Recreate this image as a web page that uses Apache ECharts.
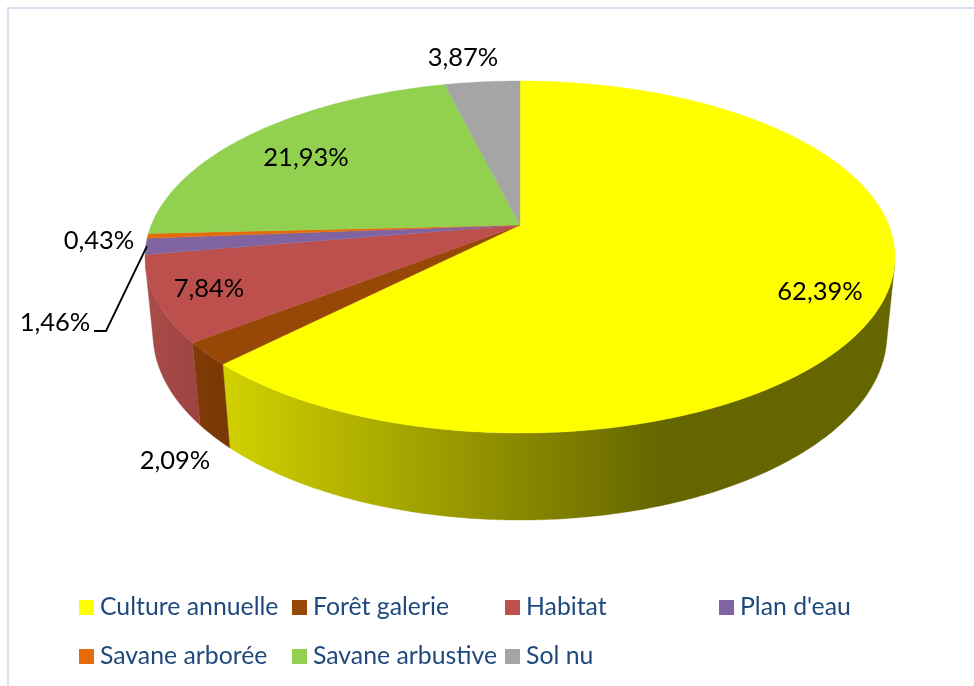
<!DOCTYPE html>
<html>
<head>
<meta charset="utf-8">
<style>html,body{margin:0;padding:0;background:#fff}#c{width:974px;height:686px}</style>
<script src="https://cdn.jsdelivr.net/npm/echarts@6/dist/echarts.min.js"></script>
</head>
<body>
<div id="c"></div>
<script>
// Land cover shares, clockwise from twelve o'clock
const categories = ['Culture annuelle', 'Forêt galerie', 'Habitat', "Plan d'eau", 'Savane arborée', 'Savane arbustive', 'Sol nu'];
const shares = [62.39, 2.09, 7.84, 1.46, 0.43, 21.93, 3.87];

const topColors = ['#ffff00', '#974706', '#bd504d', '#8064a2', '#e36c09', '#92d050', '#a5a5a5'];
const wallStops = [
  [[222, '#d2d200'], [660, '#666600']],
  [[192, '#7f3b05'], [230, '#7a3805']],
  [[146, '#aa4c4a'], [200, '#9c4341']],
  [[146, '#6c5488'], [150, '#6c5488']],
  [[146, '#c05c08'], [150, '#c05c08']],
  [[146, '#7bb044'], [150, '#7bb044']],
  [[146, '#8c8c8c'], [150, '#8c8c8c']]
];
// Data label centres, in page pixels
const labelCentres = [[820, 292], [175, 461], [209, 289], [55, 323], [99, 241], [306, 158], [463, 58]];
const leaderLine = [[147, 246], [106, 331], [94, 331]];
// Legend item corners, in page pixels
const legendSlots = [[79, 595], [292, 595], [505, 595], [719, 595], [79, 644], [292, 644], [505, 644]];

// Tilted disc: homography of the unit circle, centred on the pie's apex
const apex = { x: 520, y: 225 };
const squash = 0.1818, scaleX = 368.7, scaleY = 170.2;
// Rim depth: homology towards the vertical vanishing point
const vanishY = 3900, rimDepth = 0.02106;
const total = shares.reduce((a, b) => a + b, 0);

function perspective(theta) {
  return 1 + squash * Math.cos(theta);
}
function rimPoint(theta) {
  const u = Math.sin(theta), v = -Math.cos(theta), w = perspective(theta);
  return [apex.x + scaleX * u / w, apex.y + scaleY * v / w];
}
function dropPoint(theta) {
  const p = rimPoint(theta), w = perspective(theta), s = w / (w + rimDepth);
  return [apex.x + s * (p[0] - apex.x), vanishY + s * (p[1] - vanishY)];
}
function sweep(a0, a1, fn) {
  const n = Math.max(2, Math.ceil(Math.abs(a1 - a0) / 0.01)), pts = [];
  for (let i = 0; i <= n; i++) pts.push(fn(a0 + (a1 - a0) * i / n));
  return pts;
}
// Angle at which a ray from the vanishing point grazes the disc
const limbAngle = (function () {
  let best = 0, bestSlope = -1;
  for (let t = 0; t < Math.PI; t += 0.001) {
    const p = rimPoint(t), slope = (p[0] - apex.x) / (vanishY - p[1]);
    if (slope > bestSlope) { bestSlope = slope; best = t; }
  }
  return best;
})();

function renderSlice(index) {
  return function (params, api) {
    const a0 = api.value(0) / total * 2 * Math.PI;
    const a1 = api.value(1) / total * 2 * Math.PI;
    const children = [];

    // Visible part of the outer wall
    const w0 = Math.max(a0, limbAngle), w1 = Math.min(a1, 2 * Math.PI - limbAngle);
    if (w1 > w0) {
      const stops = wallStops[index];
      const fill = new echarts.graphic.LinearGradient(stops[0][0], 0, stops[1][0], 0,
        [{ offset: 0, color: stops[0][1] }, { offset: 1, color: stops[1][1] }], true);
      children.push({
        type: 'polygon',
        shape: { points: sweep(w0, w1, rimPoint).concat(sweep(w1, w0, dropPoint)) },
        style: { fill: fill, stroke: fill, lineWidth: 0.4 }
      });
    }

    // Top face
    children.push({
      type: 'polygon',
      shape: { points: [[apex.x, apex.y]].concat(sweep(a0, a1, rimPoint)) },
      style: { fill: topColors[index], stroke: topColors[index], lineWidth: 0.4 }
    });
    return { type: 'group', children: children };
  };
}

function renderLabel(index) {
  return function (params, api) {
    const c = labelCentres[index];
    return {
      type: 'text',
      style: {
        x: c[0], y: c[1],
        text: api.value(0).toFixed(2).replace('.', ',') + '%',
        fill: '#000',
        font: '25.5px Lato, Carlito, sans-serif',
        align: 'center', verticalAlign: 'middle'
      }
    };
  };
}

let running = 0;
const sliceSeries = categories.map((name, i) => {
  const start = running;
  running += shares[i];
  return {
    type: 'custom',
    name: name,
    coordinateSystem: 'none',
    silent: true,
    itemStyle: { color: topColors[i] },
    renderItem: renderSlice(i),
    data: [[start, running]]
  };
});
const labelSeries = categories.map((name, i) => ({
  type: 'custom',
  name: name + ' (valeur)',
  coordinateSystem: 'none',
  silent: true,
  z: 5,
  renderItem: renderLabel(i),
  data: [[shares[i]]]
}));
const leaderSeries = {
  type: 'custom',
  name: 'Repère',
  coordinateSystem: 'none',
  silent: true,
  z: 6,
  renderItem: () => ({
    type: 'polyline',
    shape: { points: leaderLine },
    style: { fill: 'none', stroke: '#000', lineWidth: 1.8 }
  }),
  data: [[0]]
};

const chart = echarts.init(document.getElementById('c'), null, { renderer: 'canvas' });
chart.setOption({
  animation: false,
  backgroundColor: '#ffffff',
  tooltip: { show: false },
  legend: categories.map((name, i) => ({
    data: [name],
    left: legendSlots[i][0],
    top: legendSlots[i][1],
    padding: 0,
    icon: 'rect',
    itemWidth: 15,
    itemHeight: 15,
    selectedMode: false,
    textStyle: { color: '#1f497d', fontSize: 24.8, fontFamily: 'Lato, Carlito, sans-serif', padding: [0, 0, 0, 1] }
  })),
  graphic: [
    { type: 'polyline', silent: true,
      shape: { points: [[8, 686], [8, 8], [974, 8]] },
      style: { fill: 'none', stroke: '#d6e2f1', lineWidth: 2 } }
  ],
  series: sliceSeries.concat(labelSeries, [leaderSeries])
});
</script>
</body>
</html>
